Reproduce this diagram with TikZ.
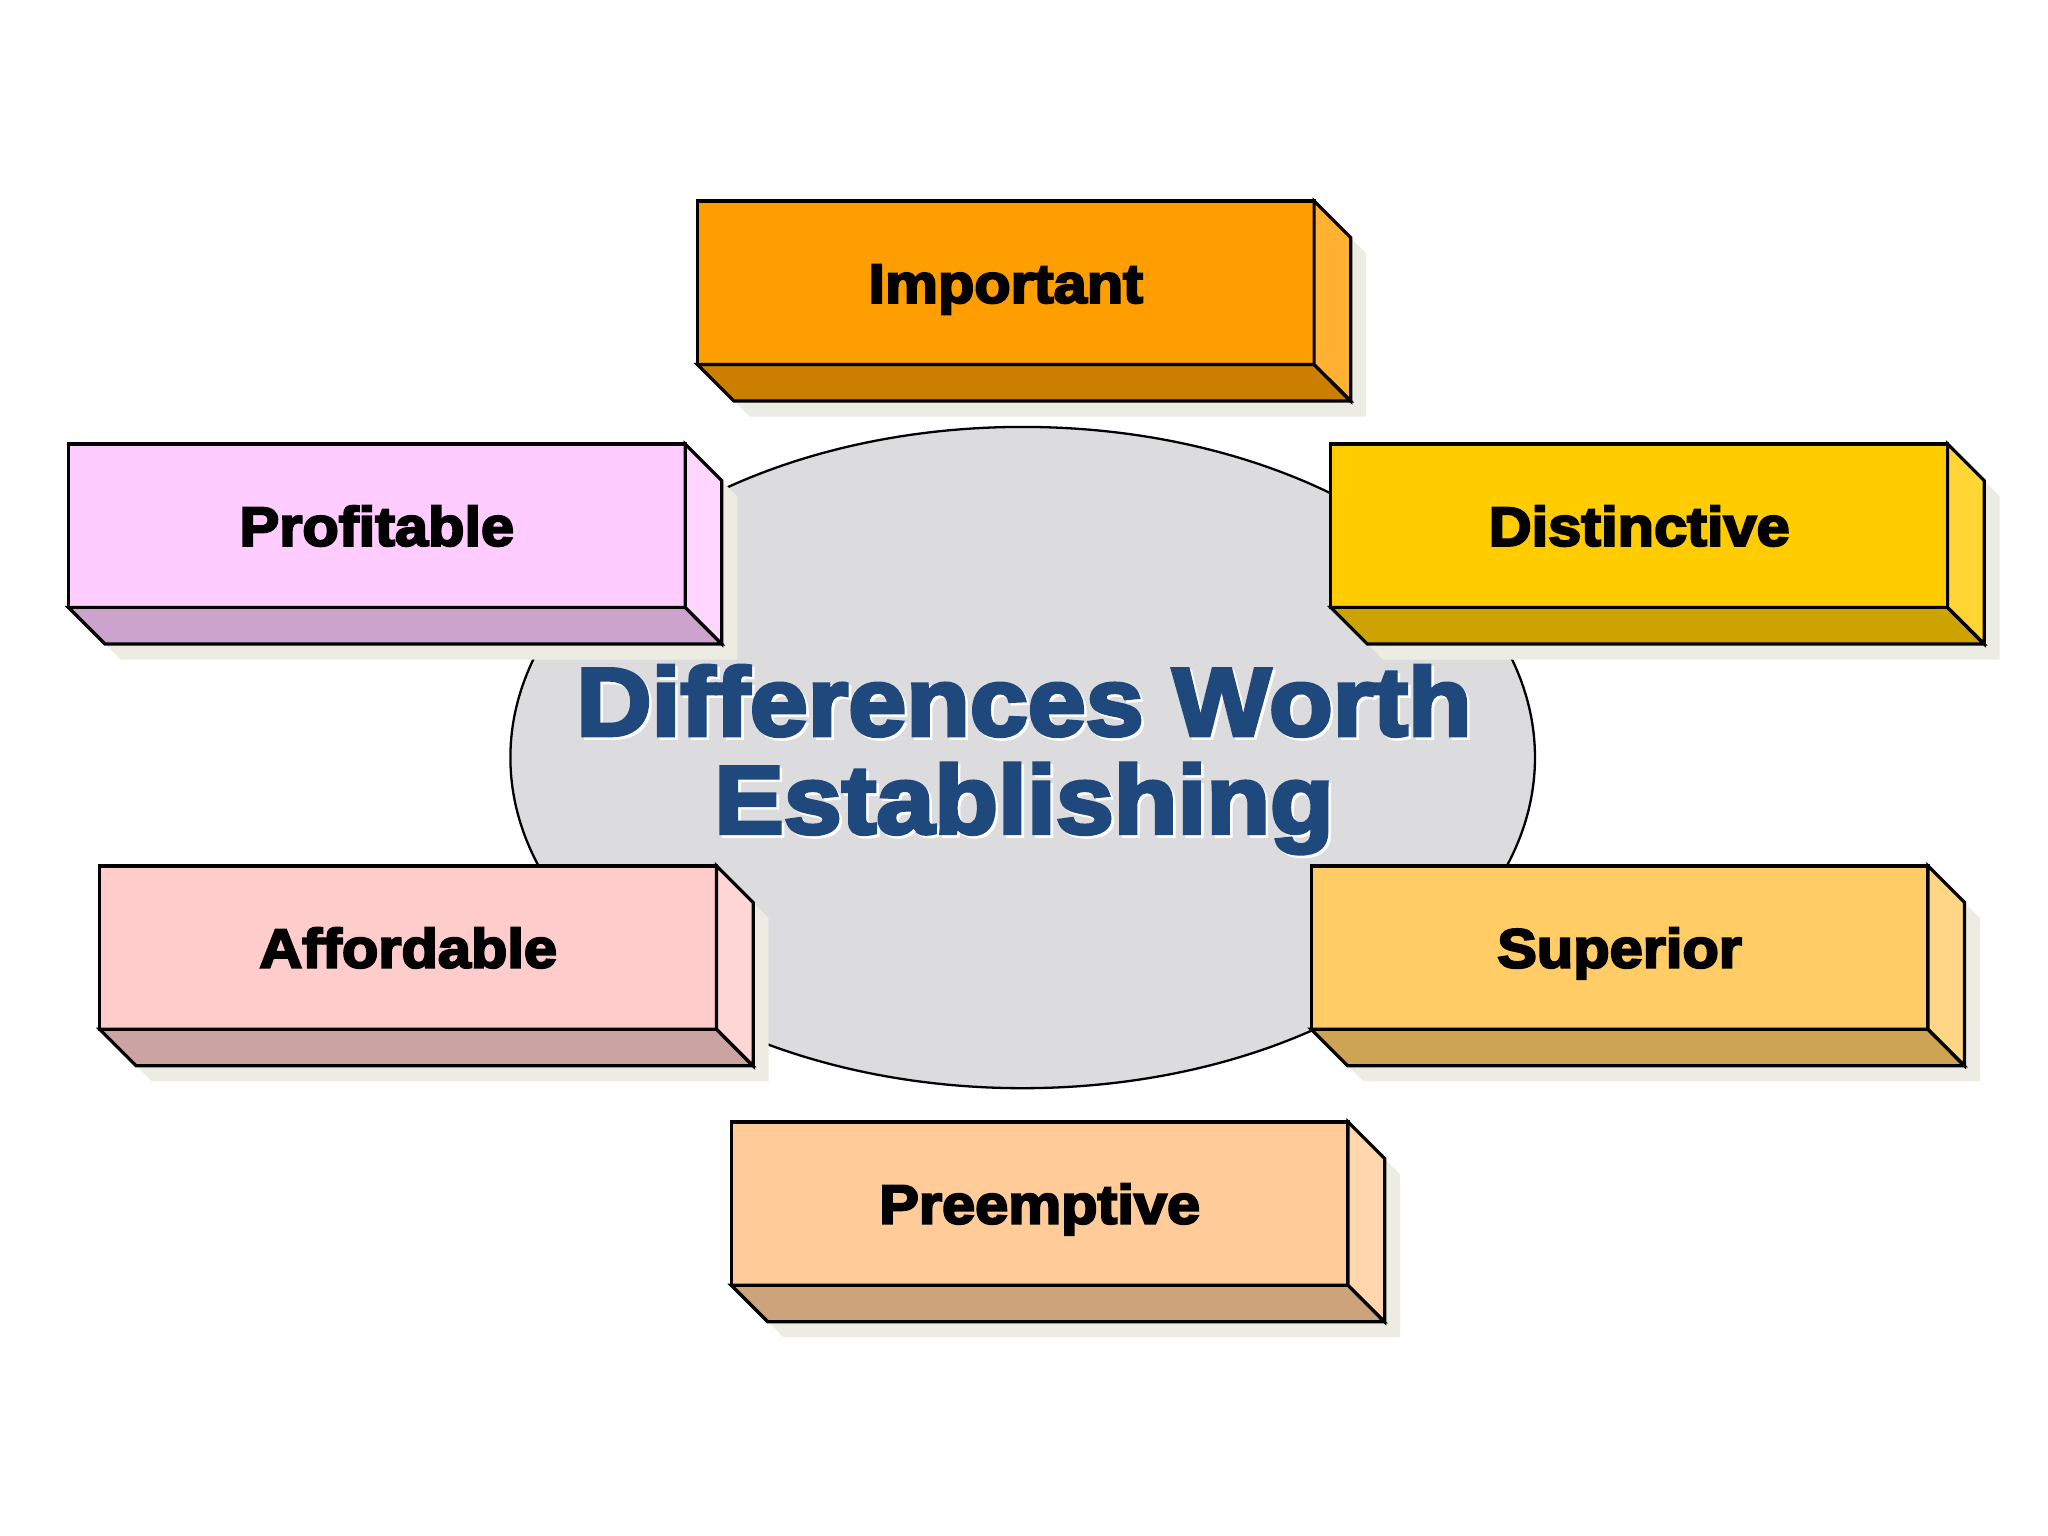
\documentclass[tikz,border=0pt]{standalone}
\usepackage{fontspec}
\newfontfamily\heavyfont{Liberation Sans}[BoldFeatures={FakeBold=4,FakeStretch=1.08}]
\usetikzlibrary{shapes.geometric}
\definecolor{impcol}{HTML}{FF9E00}
\definecolor{procol}{HTML}{FFCCFF}
\definecolor{discol}{HTML}{FFCC00}
\definecolor{affcol}{HTML}{FFCCCC}
\definecolor{supcol}{HTML}{FFCC66}
\definecolor{precol}{HTML}{FFCC99}
\definecolor{ovalgray}{HTML}{DCDCDF}
\definecolor{shadowcol}{HTML}{ECECE3}
\definecolor{titleblue}{HTML}{1F487C}
\tikzset{
  edge/.style={draw=black, line width=0.7pt, line join=miter},
  face/.style={edge, minimum width=4.72cm, minimum height=1.25cm, outer sep=0pt, inner sep=0pt,
    text height=8.7pt, text depth=0pt,
    font=\heavyfont\bfseries\fontsize{12}{12}\selectfont},
  title/.style={anchor=base, inner sep=0pt, font=\heavyfont\bfseries\fontsize{21}{21}\selectfont},
}
\begin{document}
\begin{tikzpicture}[x=0.01cm, y=-0.01cm]
\useasboundingbox (0,0) rectangle (1568,1176);
\fill[white] (0,0) rectangle (1568,1176);
\node[draw, line width=0.5pt, fill=ovalgray, ellipse, minimum width=7.84cm, minimum height=5.06cm] (oval) at (783,580) {};
% the six blocks: front face, bottom and side faces, shadow
\foreach \name/\x/\y/\col/\txt in {imp/770/216.5/impcol/Important, pro/288.5/402.5/procol/Profitable,
    dis/1255/402.5/discol/Distinctive, aff/312.5/725.5/affcol/Affordable,
    sup/1240/725.5/supcol/Superior, pre/796/921.5/precol/Preemptive}{
  \begin{scope}[shift={(\x,\y)}]
    \fill[shadowcol] (-224,-50.5) -- (248,-50.5) -- (276,-22.5) -- (276,102.5) -- (-196,102.5) -- (-224,74.5) -- cycle;
    \node[face, fill=\col] (\name) at (0,0) {\txt};
    \draw[edge, fill=\col!80!black] (\name.south west) -- ++(28,28) -- ++(472,0) -- (\name.south east) -- cycle;
    \draw[edge, fill=\col!80!white] (\name.north east) -- ++(28,28) -- ++(0,125) -- (\name.south east) -- cycle;
  \end{scope}
}
% title with light halo
\node[title, white] (haloa) at (786,565) {Differences Worth};
\node[title, white] (halob) at (786,640) {Establishing};
\node[title, titleblue] (titlea) at (784,563) {Differences Worth};
\node[title, titleblue] (titleb) at (784,638) {Establishing};
\end{tikzpicture}
\end{document}
